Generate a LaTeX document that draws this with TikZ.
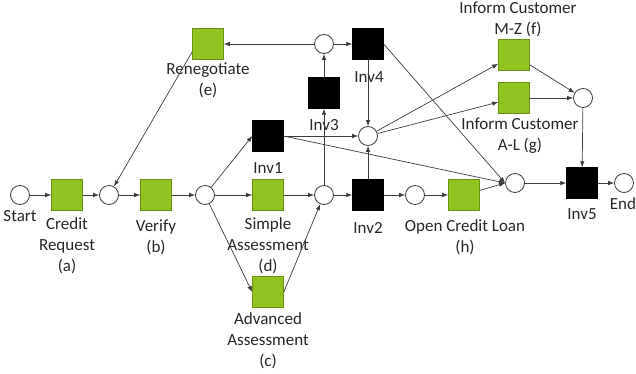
\documentclass[tikz,border=0pt]{standalone}
\usepackage{fontspec}
\setmainfont{Carlito}
\usetikzlibrary{arrows.meta}
\definecolor{lgreen}{RGB}{143,195,31}
\definecolor{lgreenborder}{RGB}{105,145,20}
\definecolor{edgec}{RGB}{60,60,60}
\begin{document}
\begin{tikzpicture}[x=1pt,y=-1pt,
  place/.style={circle, draw=edgec, fill=white, line width=0.8pt, minimum size=19pt, inner sep=0pt},
  trans/.style={rectangle, draw=lgreenborder, fill=lgreen, line width=0.6pt, minimum size=31pt, inner sep=0pt},
  silent/.style={rectangle, draw=black, fill=black, minimum size=31pt, inner sep=0pt},
  lbl/.style={font=\fontsize{17}{21}\selectfont, align=center, inner sep=0pt, text=black!85},
  arc/.style={draw=edgec, line width=0.7pt, -{Latex[length=6pt,width=4.5pt]}}
]
\useasboundingbox (0,0) rectangle (636,374);
% places and transitions
\node[place] (start) at (20,195) {};
\node[trans] (a) at (67,195) {};
\node[place] (p1) at (109,195) {};
\node[trans] (b) at (156,195) {};
\node[place] (p2) at (205,195) {};
\node[silent] (inv1) at (268,136) {};
\node[trans] (d) at (268,195) {};
\node[trans] (c) at (268,292) {};
\node[place] (p3) at (324,195) {};
\node[silent] (inv3) at (324,93) {};
\node[place] (p4) at (324,44) {};
\node[trans] (e) at (208,44) {};
\node[silent] (inv4) at (368,44) {};
\node[place] (p5) at (368,136) {};
\node[silent] (inv2) at (368,195) {};
\node[place] (p6) at (415,195) {};
\node[trans] (h) at (464,195) {};
\node[trans] (f) at (514,55) {};
\node[trans] (g) at (514,98) {};
\node[place] (p7) at (583,98) {};
\node[place] (p8) at (515,183) {};
\node[silent] (inv5) at (582,183) {};
\node[place] (end) at (624,183) {};
% labels
\node[lbl] (lstart) at (20,216) {Start};
\node[lbl] (la) at (67,246) {Credit\\Request\\(a)};
\node[lbl] (lb) at (156,237.5) {Verify\\(b)};
\node[lbl] (le) at (208,80.5) {Renegotiate\\(e)};
\node[lbl] (linv4) at (369,77) {Inv4};
\node[lbl] (linv3) at (324,125) {Inv3};
\node[lbl] (linv1) at (268,168) {Inv1};
\node[lbl] (ld) at (268,246) {Simple\\Assessment\\(d)};
\node[lbl] (lc) at (268,341) {Advanced\\Assessment\\(c)};
\node[lbl] (linv2) at (368,228) {Inv2};
\node[lbl] (lh) at (465,237.5) {Open Credit Loan\\(h)};
\node[lbl] (lf) at (518,19.5) {Inform Customer\\M-Z (f)};
\node[lbl] (lg) at (520,136) {Inform Customer\\A-L (g)};
\node[lbl] (linv5) at (582,214) {Inv5};
\node[lbl] (lend) at (623,204) {End};
% arcs
\draw[arc] (start) -- (a);
\draw[arc] (a) -- (p1);
\draw[arc] (p1) -- (b);
\draw[arc] (b) -- (p2);
\draw[arc] (p2) -- (inv1.west);
\draw[arc] (p2) -- (d);
\draw[arc] (p2) -- (c.west);
\draw[arc] (d) -- (p3);
\draw[arc] (c.east) -- (p3);
\draw[arc] (p3) -- (inv2);
\draw[arc] (p3) -- (inv3);
\draw[arc] (inv3) -- (p4);
\draw[arc] (p4) -- (e);
\draw[arc] (p4) -- (inv4);
\draw[arc] ([yshift=8pt]e.south west) -- (p1);
\draw[arc] (inv4) -- (p5);
\draw[arc] (inv1) -- (p5);
\draw[arc] (inv1.east) -- (p8.west);
\draw[arc] (inv4.east) -- (p8.west);
\draw[arc] (inv2) -- (p5);
\draw[arc] (inv2) -- (p6);
\draw[arc] (p6) -- (h);
\draw[arc] (h) -- (p8.west);
\draw[arc] (p5) -- (f);
\draw[arc] (p5) -- (g);
\draw[arc] (f) -- (p7);
\draw[arc] (g) -- (p7);
\draw[arc] (p7) -- (inv5);
\draw[arc] (p8) -- (inv5);
\draw[arc] (inv5) -- (end);
\end{tikzpicture}
\end{document}
